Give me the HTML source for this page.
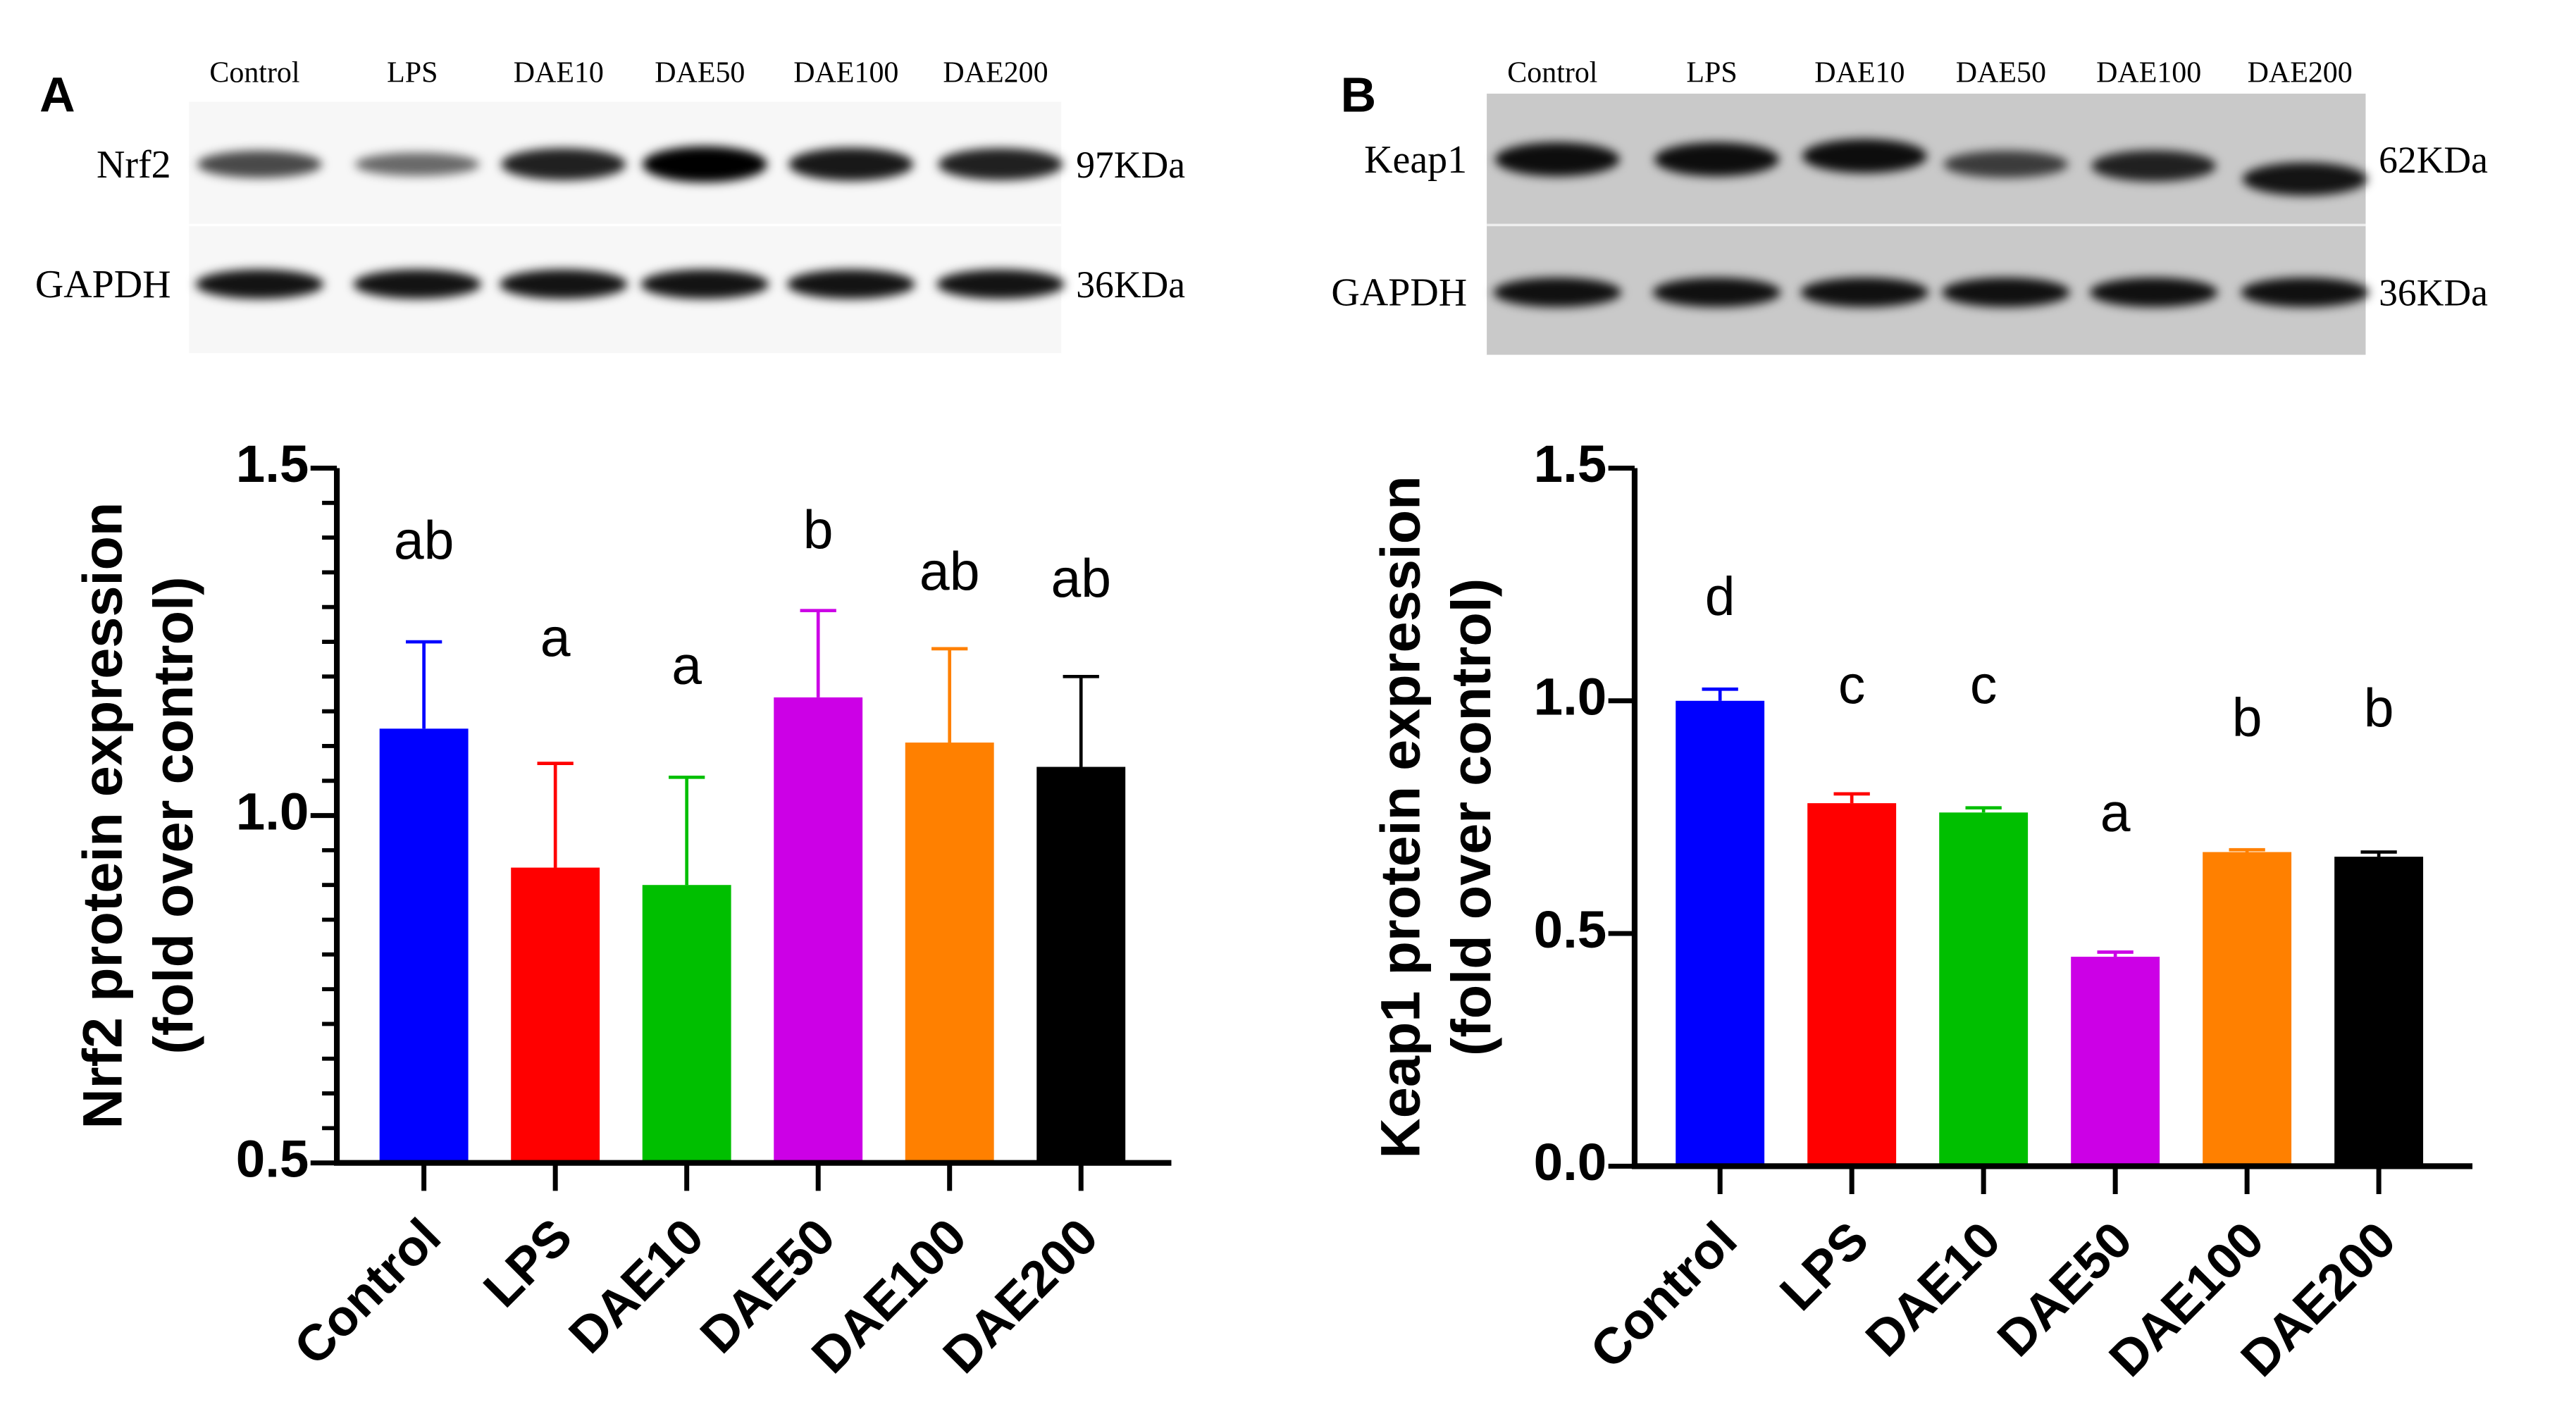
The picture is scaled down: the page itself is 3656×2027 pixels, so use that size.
<!DOCTYPE html>
<html><head><meta charset="utf-8"><style>
html,body{margin:0;padding:0;background:#fff;}
svg{display:block;}
.serif{font-family:"Liberation Serif",serif;}
.sans{font-family:"Liberation Sans",sans-serif;}
</style></head><body>
<svg id="fig" width="3656" height="2027" viewBox="0 0 1568 869.4" xmlns="http://www.w3.org/2000/svg">
<defs>
<filter id="blur" x="-30%" y="-80%" width="160%" height="260%"><feGaussianBlur stdDeviation="3"/></filter>
</defs>
<g id="blots"></g>
<g id="chartA"></g>
<g id="chartB"></g>
</svg>
<script>
const NS="http://www.w3.org/2000/svg";
const categories=["Control","LPS","DAE10","DAE50","DAE100","DAE200"];
const colors=["#0000ff","#ff0000","#00bf00","#cc00e6","#ff8000","#000000"];
const nrf2Values=[1.125,0.925,0.90,1.17,1.105,1.07];
const nrf2Upper=[1.25,1.075,1.055,1.295,1.24,1.20];
const nrf2Letters=["ab","a","a","b","ab","ab"];
const nrf2LetterY=[1.39,1.25,1.21,1.405,1.345,1.335];
const keapValues=[1.0,0.78,0.76,0.45,0.675,0.665];
const keapUpper=[1.025,0.80,0.77,0.46,0.68,0.675];
const keapLetters=["d","c","c","a","b","b"];
const keapLetterY=[1.215,1.025,1.025,0.75,0.955,0.975];
const nrf2Ticks=["0.5","1.0","1.5"];
const keapTicks=["0.0","0.5","1.0","1.5"];
const nrf2Band=[0.55,0.35,0.8,1.0,0.85,0.8];
const keapBand=[0.9,0.9,0.9,0.55,0.75,0.85];

function el(tag,attrs,parent,text){const e=document.createElementNS(NS,tag);for(const k in attrs)e.setAttribute(k,attrs[k]);if(text!==undefined)e.textContent=text;parent.appendChild(e);return e;}

function chart(g,o){
  const y=v=>o.y0-(v-o.vmin)/(o.vmax-o.vmin)*(o.y0-o.y1);
  const x=i=>o.x0+o.first+i*o.step;
  categories.forEach((c,i)=>{
    const cx=x(i);
    const bar=el('rect',{x:cx-27,y:y(o.vals[i]),width:54,height:y(o.vmin)-y(o.vals[i]),fill:colors[i]},g);
    
    
    const eb=el('path',{d:`M${cx},${y(o.vals[i])}V${y(o.up[i])}M${cx-11},${y(o.up[i])}H${cx+11}`,stroke:colors[i],'stroke-width':2,fill:'none'},g);
    
    
    const lt=el('text',{x:cx,y:y(o.ly[i]),'text-anchor':'middle','dominant-baseline':'middle','font-size':33,class:'sans'},g,o.letters[i]);
    
    
    el('line',{x1:cx,y1:o.y0,x2:cx,y2:o.y0+17,stroke:'#000','stroke-width':3},g);
    const cl=el('text',{transform:`translate(${cx+12},${o.y0+47}) rotate(-45)`,'text-anchor':'end','font-size':31,'font-weight':'bold',class:'sans'},g,c);
    
    
  });
  el('path',{d:`M${o.x0},${o.y1}V${o.y0}H${o.xEnd}`,stroke:'#000','stroke-width':3.5,fill:'none'},g);
  if(o.minor){for(let v=o.vmin;v<=o.vmax+1e-9;v+=o.minor){el('line',{x1:o.x0-9,y1:y(v),x2:o.x0,y2:y(v),stroke:'#000','stroke-width':2.5},g);}}
  o.ticks.forEach(t=>{
    const v=parseFloat(t);
    el('line',{x1:o.x0-16,y1:y(v),x2:o.x0,y2:y(v),stroke:'#000','stroke-width':3},g);
    const tl=el('text',{x:o.x0-17,y:y(v),'text-anchor':'end','dominant-baseline':'middle','font-size':32,'font-weight':'bold',class:'sans'},g,t);
    
    
  });
  const t1=el('text',{transform:`translate(${o.tx},${(o.y0+o.y1)/2}) rotate(-90)`,'text-anchor':'middle','font-size':34,'font-weight':'bold',class:'sans'},g,o.title1);
  
  
  const t2=el('text',{transform:`translate(${o.tx+43},${(o.y0+o.y1)/2}) rotate(-90)`,'text-anchor':'middle','font-size':34,'font-weight':'bold',class:'sans'},g,'(fold over control)');
  
  
}
chart(document.getElementById('chartA'),{x0:205,xEnd:713,y0:708,y1:285,vmin:0.5,vmax:1.5,first:53,step:80,vals:nrf2Values,up:nrf2Upper,letters:nrf2Letters,ly:nrf2LetterY,ticks:nrf2Ticks,minor:0.05,tx:74,title1:'Nrf2 protein expression'});
chart(document.getElementById('chartB'),{x0:995,xEnd:1505,y0:710,y1:285,vmin:0,vmax:1.5,first:52,step:80.2,vals:keapValues,up:keapUpper,letters:keapLetters,ly:keapLetterY,ticks:keapTicks,minor:0,tx:864,title1:'Keap1 protein expression'});

// Western blots
const b=document.getElementById('blots');
function blot(o){
  el('rect',{x:o.x,y:o.y,width:o.w,height:o.h,fill:o.bg},b);
  el('line',{x1:o.x,y1:137,x2:o.x+o.w,y2:137,stroke:o.div,'stroke-width':1.5},b);
  const lx=o.lanes;
  categories.forEach((c,i)=>{
    const t=el('text',{x:lx[i],y:50,'text-anchor':'middle','font-size':18,class:'serif'},b,c);
    
    
    const s1=o.band1[i];
    el('ellipse',{cx:lx[i]+3,cy:o.y1row+(o.tilt?o.tilt[i]:0),rx:38,ry:5+6*s1,fill:`rgba(0,0,0,${0.35+0.65*s1})`,filter:'url(#blur)'},b);
    el('ellipse',{cx:lx[i]+3,cy:o.y2row,rx:39,ry:9,fill:'rgba(0,0,0,0.92)',filter:'url(#blur)'},b);
  });
  [[o.lab1,o.y1row],[ 'GAPDH',o.y2row]].forEach(([t,yy])=>{el('text',{x:o.labX,y:yy+8,'text-anchor':'end','font-size':24,class:'serif'},b,t);});
  el('text',{x:o.kx,y:o.y1row+8,'font-size':23,class:'serif'},b,o.kda1);
  el('text',{x:o.kx,y:o.y2row+8,'font-size':23,class:'serif'},b,'36KDa');
  el('text',{x:o.px,y:68,'font-size':30,'font-weight':'bold',class:'sans'},b,o.panel);
}
blot({name:'nrf2',x:115,y:62,w:531,h:153,bg:'#f7f7f7',div:'#ffffff',lanes:[155,251,340,426,515,606],band1:nrf2Band,y1row:100,y2row:173,labX:104,kx:655,lab1:'Nrf2',kda1:'97KDa',panel:'A',px:24});
blot({name:'keap1',x:905,y:57,w:535,h:159,bg:'#c9c9c9',div:'#eeeeee',lanes:[945,1042,1132,1218,1308,1400],band1:keapBand,tilt:[0,0,-2,3,4,12],y1row:97,y2row:178,labX:893,kx:1448,lab1:'Keap1',kda1:'62KDa',panel:'B',px:816});
</script>
</body></html>
